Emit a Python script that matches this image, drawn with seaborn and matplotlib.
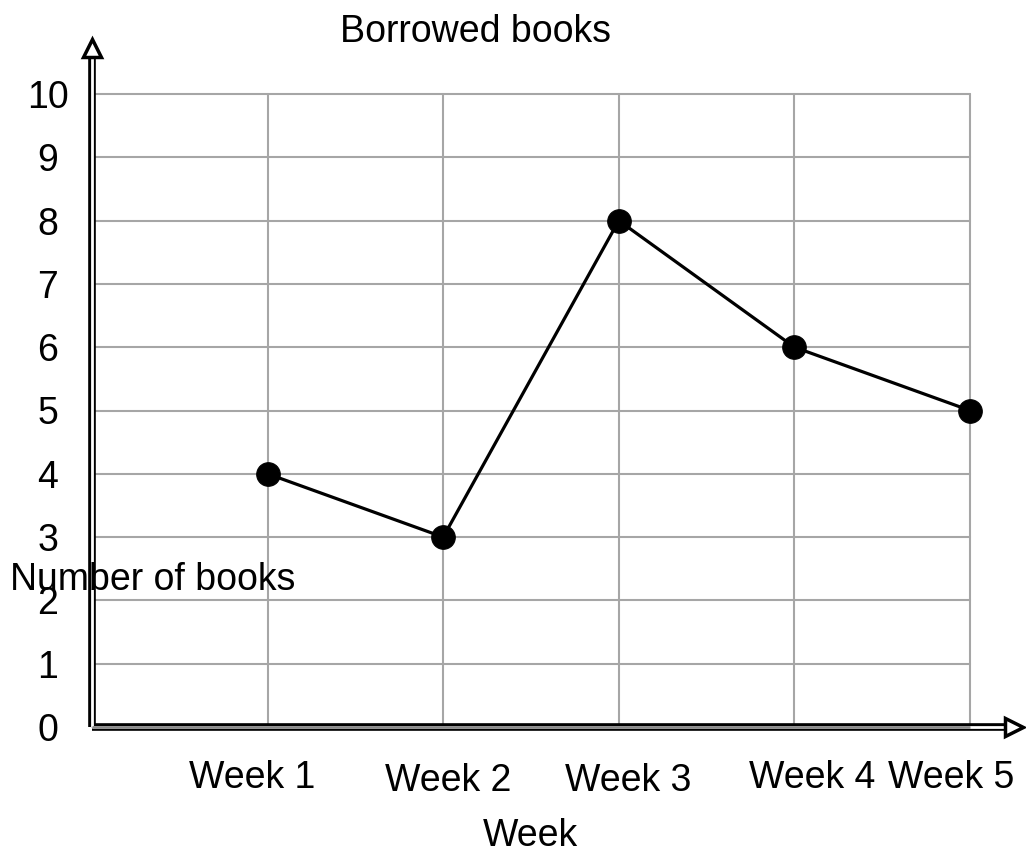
import matplotlib
matplotlib.use("Agg")
import matplotlib.pyplot as plt
import matplotlib.transforms as mtransforms
import seaborn as sns
import pandas as pd

weeks = ["Week 1", "Week 2", "Week 3", "Week 4", "Week 5"]
books = [4, 3, 8, 6, 5]
y_ticks = list(range(0, 11))

sns.set_style("white")
plt.rcParams["font.family"] = ["Liberation Sans", "DejaVu Sans"]
plt.rcParams["text.color"] = "black"
plt.rcParams["xtick.color"] = "black"
plt.rcParams["ytick.color"] = "black"

df = pd.DataFrame({"Week": weeks, "Books": books})

fig = plt.figure(figsize=(10.26, 8.56), dpi=100)
ax = fig.add_axes([92 / 1026, 129 / 856, 878 / 1026, 633 / 856])

sns.lineplot(data=df, x="Week", y="Books", ax=ax, color="black", linewidth=2.3,
             marker="o", markersize=17, markerfacecolor="black",
             markeredgecolor="black", zorder=5, clip_on=False)

ax.set_xlim(-1, 4)
ax.set_ylim(0, 10)
ax.set_yticks(y_ticks)
ax.set_yticklabels([str(v) for v in y_ticks], fontsize=27, ha="center", color="black")
ax.set_xticks(range(len(weeks)))
ax.set_xticklabels(weeks, fontsize=27, color="black")
ax.tick_params(axis="y", length=0, pad=32)
ax.tick_params(axis="x", length=0, pad=24)
ax.set_xlabel("")
ax.set_ylabel("")
for s in ax.spines.values():
    s.set_visible(False)

# label layout nudges (pixels) to mimic the reference's irregular label placement
label_dx = [-15, 5, 9, 18, -19]
label_dy = [0, -3, -3, 0, 0]
for lbl, dx, dy in zip(ax.get_xticklabels(), label_dx, label_dy):
    lbl.set_transform(lbl.get_transform() +
                      mtransforms.ScaledTranslation(dx / 100, dy / 100, fig.dpi_scale_trans))

ax.grid(True, color="#a6a6a6", linewidth=1.5, zorder=1)
for ln in ax.get_xgridlines() + ax.get_ygridlines():
    ln.set_clip_on(False)

# double-line axes with open arrowheads
ytop = 10.73
xend = 4.25
ax.plot([-1, -1], [0, ytop], color="black", lw=5.5, solid_capstyle="butt", clip_on=False, zorder=3)
ax.plot([-1, -1], [0, ytop], color="white", lw=2, solid_capstyle="butt", clip_on=False, zorder=3.5)
ax.plot([-1, xend], [0, 0], color="black", lw=5.5, solid_capstyle="butt", clip_on=False, zorder=3)
ax.plot([-1, xend], [0, 0], color="white", lw=2, solid_capstyle="butt", clip_on=False, zorder=3.5)
ax.plot([-1, 4], [0, 0], color="#8a8a8a", lw=2, solid_capstyle="butt", clip_on=False, zorder=3.6)
ax.plot([-1], [ytop], marker="^", markersize=13, markerfacecolor="white",
        markeredgecolor="black", markeredgewidth=2.5, clip_on=False, zorder=4)
ax.plot([xend], [0], marker=">", markersize=13, markerfacecolor="white",
        markeredgecolor="black", markeredgewidth=2.5, clip_on=False, zorder=4)

fig.text(475 / 1026, 1 - 32 / 856, "Borrowed books", ha="center", va="center", fontsize=27)
fig.text(530 / 1026, 1 - 836 / 856, "Week", ha="center", va="center", fontsize=27)
fig.text(10 / 1026, 1 - 580 / 856, "Number of books", ha="left", va="center", fontsize=27)

fig.savefig("out.png", dpi=100)
